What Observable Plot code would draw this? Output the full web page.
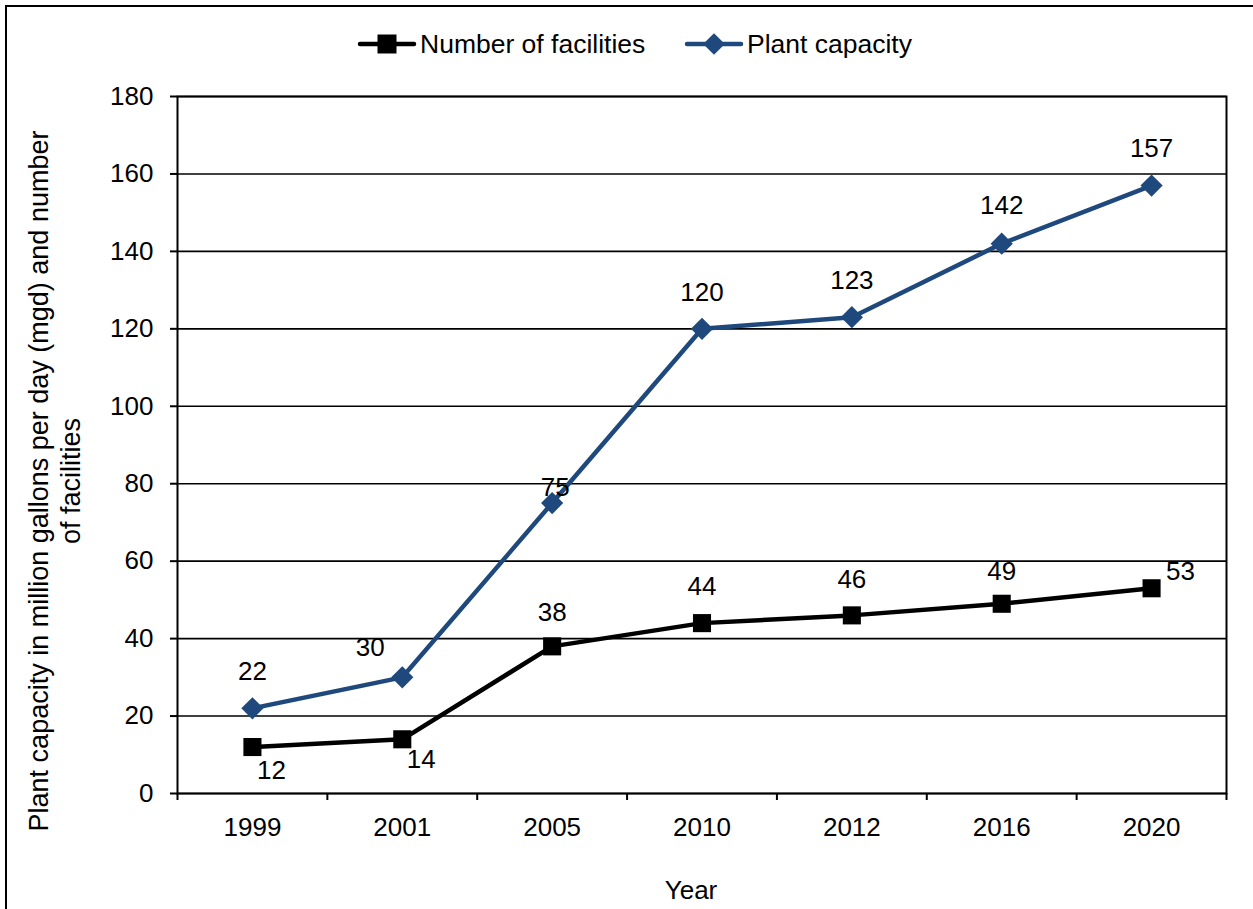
<!DOCTYPE html>
<html>
<head>
<meta charset="utf-8">
<script src="https://cdn.jsdelivr.net/npm/d3@7"></script>
<script src="https://cdn.jsdelivr.net/npm/@observablehq/plot@0.6"></script>
<style>
  html, body { margin: 0; padding: 0; background: #fff; }
  #wrap { position: relative; width: 1253px; height: 909px; overflow: hidden; font-family: "Liberation Sans", Arial, sans-serif; }
  #border { position: absolute; left: 5px; top: 4.5px; width: 1300px; height: 1000px; border-left: 2px solid #000; border-top: 2px solid #000; box-sizing: border-box; }
  #chart { position: absolute; left: 0; top: 0; }
  #legend { position: absolute; left: 0; top: 0; }
</style>
</head>
<body>
<div id="wrap">
  <div id="border"></div>
  <div id="chart"></div>
  <svg id="legend" width="1253" height="80"></svg>
</div>
<script>
// ---- data ----
const years = ["1999", "2001", "2005", "2010", "2012", "2016", "2020"];
const facilities = [12, 14, 38, 44, 46, 49, 53];
const capacity = [22, 30, 75, 120, 123, 142, 157];
const yTicks = [0, 20, 40, 60, 80, 100, 120, 140, 160, 180];
const seriesNames = ["Number of facilities", "Plant capacity"];
const yTitle = "Plant capacity in million gallons per day (mgd) and number\nof facilities";
const xTitle = "Year";

// ---- styling / layout ----
const BLUE = "#1f497d";
const FONT = 26;
// per-label pixel nudges (layout, not data)
const facLabelNudge = [[19, 24], [19, 20], [0, -34], [0, -36], [0, -36], [0, -32], [29, -17]];
const capLabelNudge = [[0, -37], [-32, -30], [3, -15], [0, -36], [0, -37], [0, -38], [0, -37]];

const facRows = years.map((yr, i) => ({i, year: yr, value: facilities[i]}));
const capRows = years.map((yr, i) => ({i, year: yr, value: capacity[i]}));
const boundaries = d3.range(years.length + 1).map(k => k - 0.5);

const labelMarks = [];
facRows.forEach((d, k) => labelMarks.push(Plot.text([d], {x: "i", y: "value", text: d => String(d.value), dx: facLabelNudge[k][0], dy: facLabelNudge[k][1], fill: "#000", fontSize: FONT})));
capRows.forEach((d, k) => labelMarks.push(Plot.text([d], {x: "i", y: "value", text: d => String(d.value), dx: capLabelNudge[k][0], dy: capLabelNudge[k][1], fill: "#000", fontSize: FONT})));

const chart = Plot.plot({
  width: 1253,
  height: 909,
  marginLeft: 177,
  marginRight: 27,
  marginTop: 96,
  marginBottom: 116,
  style: {fontFamily: "'Liberation Sans', Arial, sans-serif", fontSize: FONT + "px", color: "#000", background: "transparent"},
  x: {type: "linear", domain: [-0.5, years.length - 0.5]},
  y: {domain: [0, 180]},
  marks: [
    Plot.gridY(yTicks, {stroke: "#000", strokeOpacity: 1, strokeWidth: 1.6}),
    Plot.frame({stroke: "#000", strokeWidth: 2}),
    Plot.axisY(yTicks, {tickSize: 7, tickPadding: 17, tickFormat: d => String(d), fontSize: FONT, label: null, stroke: "#000", strokeWidth: 2}),
    Plot.axisX(boundaries, {tickSize: 7, tickFormat: () => "", label: null, stroke: "#000", strokeWidth: 2}),
    Plot.axisX(d3.range(years.length), {tickSize: 0, tickPadding: 24, tickFormat: i => years[i], fontSize: FONT, label: null}),
    Plot.line(capRows, {x: "i", y: "value", stroke: BLUE, strokeWidth: 4.5, strokeLinejoin: "round"}),
    Plot.line(facRows, {x: "i", y: "value", stroke: "#000", strokeWidth: 4.5, strokeLinejoin: "round"}),
    Plot.dot(capRows, {x: "i", y: "value", symbol: "diamond2", r: 10, fill: BLUE, stroke: "none"}),
    Plot.dot(facRows, {x: "i", y: "value", symbol: "square", r: 10.2, fill: "#000", stroke: "none"}),
    ...labelMarks,
    Plot.text([yTitle], {frameAnchor: "left", textAnchor: "middle", lineAnchor: "middle", rotate: -90, dx: -124, dy: 36, text: d => d, fontSize: 27, lineHeight: 1.2, fill: "#000"}),
    Plot.text([xTitle], {frameAnchor: "bottom", dx: -11, dy: 105, text: d => d, fontSize: FONT, fill: "#000"})
  ]
});
document.getElementById("chart").appendChild(chart);

// ---- legend ----
const leg = d3.select("#legend");
const legendItems = [
  {name: seriesNames[0], color: "#000", symbol: d3.symbolSquare, size: 19 * 19, x0: 360},
  {name: seriesNames[1], color: BLUE, symbol: d3.symbolDiamond2, size: 300, x0: 687}
];
const LY = 44;
legendItems.forEach(it => {
  const g = leg.append("g");
  g.append("line").attr("x1", it.x0).attr("x2", it.x0 + 54).attr("y1", LY).attr("y2", LY)
    .attr("stroke", it.color).attr("stroke-width", 4.5).attr("stroke-linecap", "round");
  g.append("path").attr("d", d3.symbol(it.symbol, it.size)()).attr("transform", `translate(${it.x0 + 27},${LY})`).attr("fill", it.color);
  g.append("text").attr("x", it.x0 + 60).attr("y", LY).attr("dy", "0.35em")
    .attr("font-size", 26.5).attr("font-family", "'Liberation Sans', Arial, sans-serif").attr("fill", "#000").text(it.name);
});
</script>
</body>
</html>
